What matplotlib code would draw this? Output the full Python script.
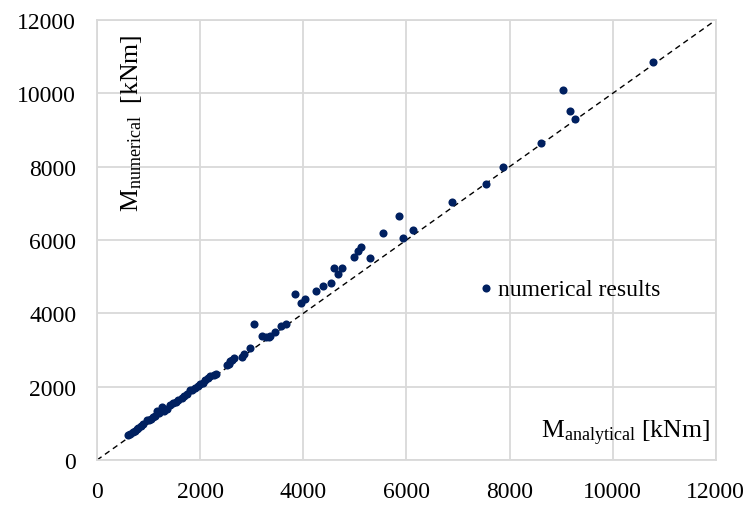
import matplotlib
matplotlib.use("Agg")
import matplotlib.pyplot as plt

plt.rcParams['font.family'] = ['Liberation Serif', 'DejaVu Serif']
plt.rcParams['mathtext.fontset'] = 'custom'
plt.rcParams['mathtext.rm'] = 'Liberation Serif'
plt.rcParams['mathtext.it'] = 'Liberation Serif:italic'

# analytical moment [kNm]
m_analytical = [
    604, 640, 690, 730, 766, 800, 850, 900, 960, 1000, 1040, 1080, 1120, 1155,
    1200, 1266, 1300, 1350, 1420, 1480, 1530, 1580, 1642, 1690, 1740, 1804,
    1850, 1900, 1950, 2000, 2050, 2100, 2150, 2200, 2259, 2300,
    2518, 2560, 2583, 2615, 2660, 2810, 2843, 2973, 3044, 3199, 3277, 3329,
    3362, 3460, 3576, 3666, 3842, 3952, 4036, 4251, 4387, 4543, 4595, 4679,
    4757, 4984, 5069, 5127, 5290, 5555, 5847, 5938, 6133, 6886, 7535, 7866,
    8619, 9040, 9177, 9274, 10773,
]
# numerical moment [kNm]
m_numerical = [
    670, 700, 760, 800, 853, 870, 930, 980, 1079, 1100, 1130, 1160, 1200, 1325,
    1280, 1436, 1340, 1400, 1500, 1561, 1590, 1640, 1690, 1740, 1800, 1897,
    1910, 1960, 2010, 2079, 2110, 2170, 2230, 2280, 2305, 2340,
    2597, 2630, 2687, 2741, 2780, 2807, 2897, 3052, 3706, 3379, 3352, 3352,
    3379, 3504, 3668, 3714, 4523, 4286, 4404, 4613, 4758, 4840, 5232, 5077,
    5232, 5548, 5712, 5820, 5513, 6186, 6649, 6058, 6284, 7030, 7529, 7984,
    8638, 10098, 9527, 9309, 10854,
]

fig = plt.figure(figsize=(7.48, 5.06), dpi=100)
ax = fig.add_axes([0.1297, 0.0889, 0.8273, 0.8696])

ax.plot([0, 12000], [0, 12000], color='black', linestyle=(0, (4, 3)), linewidth=1.0, zorder=2)
ax.scatter(m_analytical, m_numerical, s=34, color='#002060', zorder=3,
           label='numerical results', linewidths=0)

ax.set_xlim(0, 12000)
ax.set_ylim(0, 12000)
ax.set_xticks(range(0, 12001, 2000))
ax.set_yticks(range(0, 12001, 2000))
ax.grid(True, color='#d9d9d9', linewidth=1.3)
ax.set_axisbelow(True)
for s in ax.spines.values():
    s.set_color('#d9d9d9')
    s.set_linewidth(1.3)
ax.tick_params(length=0, labelsize=17)
ax.tick_params(axis='y', pad=15)
ax.tick_params(axis='x', pad=15)

ax.text(0.99, 0.03, r'M$_{\mathrm{analytical}}$ [kNm]', transform=ax.transAxes,
        ha='right', va='bottom', fontsize=18.5)
ax.text(0.055, 0.97, r'M$_{\mathrm{numerical}}$  [kNm]', transform=ax.transAxes,
        ha='center', va='top', rotation=90, fontsize=18.5)

ax.legend(loc='center left', bbox_to_anchor=(0.617, 0.389), frameon=False,
          fontsize=17, handlelength=0.6, handletextpad=0.2, borderpad=0,
          markerscale=1.0, borderaxespad=0)

fig.savefig('out.png', dpi=100)
